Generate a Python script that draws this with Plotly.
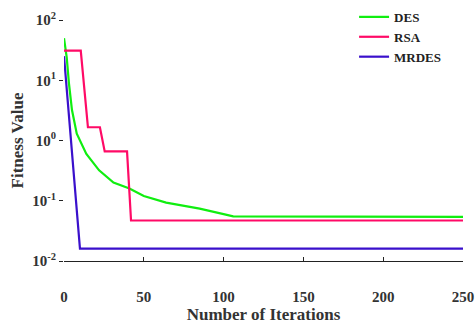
import plotly.graph_objects as go

# DES (green)
des_x = [0, 1.7, 3.1, 5, 8, 14, 22, 31, 41, 50, 64, 85, 100, 106, 250]
des_y = [50, 24, 8.9, 3.2, 1.3, 0.6, 0.32, 0.2, 0.16, 0.12, 0.093, 0.074, 0.06, 0.055, 0.054]

# RSA (pink)
rsa_x = [0, 10.5, 15, 22.5, 25.5, 39.5, 42, 250]
rsa_y = [31, 31, 1.66, 1.66, 0.66, 0.66, 0.047, 0.047]

# MRDES (blue)
mr_x = [0, 1, 2, 3, 4, 5, 6, 7, 8, 9, 10, 250]
mr_y = [25.1, 12.0, 5.75, 2.75, 1.32, 0.63, 0.30, 0.145, 0.069, 0.033, 0.016, 0.016]

x_ticks = [0, 50, 100, 150, 200, 250]
y_ticks = [0.01, 0.1, 1, 10, 100]
y_text = ["<b>10<sup>-2</sup></b>", "<b>10<sup>-1</sup></b>", "<b>10<sup>0</sup></b>",
          "<b>10<sup>1</sup></b>", "<b>10<sup>2</sup></b>"]

FONT = "Liberation Serif"

fig = go.Figure()
fig.add_trace(go.Scatter(x=des_x, y=des_y, mode="lines", name="DES",
                         line=dict(color="#10ee10", width=2.2)))
fig.add_trace(go.Scatter(x=rsa_x, y=rsa_y, mode="lines", name="RSA",
                         line=dict(color="#ff0a66", width=2.2)))
fig.add_trace(go.Scatter(x=mr_x, y=mr_y, mode="lines", name="MRDES",
                         line=dict(color="#3a10cc", width=2.2)))

fig.update_layout(
    width=475, height=325,
    margin=dict(l=64, r=12, t=20, b=64, autoexpand=False),
    paper_bgcolor="white", plot_bgcolor="white",
    font=dict(family=FONT, size=13, color="#222"),
    showlegend=True,
    legend=dict(xref="paper", yref="paper", x=0.727, y=1.075,
                xanchor="left", yanchor="top",
                bgcolor="rgba(0,0,0,0)", tracegroupgap=0,
                font=dict(family=FONT, size=13, color="#222", weight="bold")),
    xaxis=dict(range=[0, 250], tickvals=x_ticks, ticks="inside", ticklen=4,
               showgrid=False, zeroline=False, showline=True, linecolor="#222",
               linewidth=1, tickcolor="#222", ticklabelstandoff=22, automargin=False,
               ticklabeloverflow="allow",
               tickfont=dict(family=FONT, size=15, color="#333", weight="bold"),
               title=dict(text="<b>Number of Iterations</b>", standoff=0,
                          font=dict(family=FONT, size=17, color="#333"))),
    yaxis=dict(type="log", range=[-2, 2], tickvals=y_ticks, ticktext=y_text,
               ticks="outside", ticklen=4, tickcolor="#222", showgrid=False,
               zeroline=False, showline=False, automargin=False,
               tickfont=dict(family=FONT, size=15, color="#333"),
               title=dict(text="<b>Fitness Value</b>", standoff=4,
                          font=dict(family=FONT, size=17, color="#333"))),
)

fig.write_html("out.html", config={"displayModeBar": False},
               post_script="document.body.style.margin='0';")
